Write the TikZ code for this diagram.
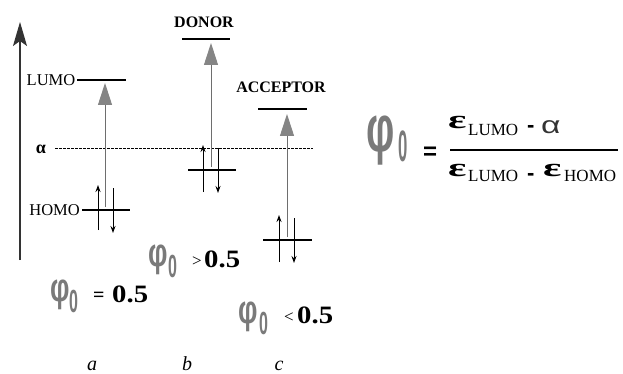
\documentclass[tikz,border=0pt]{standalone}
\usepackage{fontspec}
\setmainfont{Liberation Serif}
\newfontfamily\phifont{Liberation Sans}
\usetikzlibrary{arrows.meta}
\definecolor{ggray}{HTML}{7A7A7A}
\definecolor{sgray}{HTML}{858585}
\definecolor{shaft}{HTML}{6E6E6E}
\begin{document}
\begin{tikzpicture}[x=1pt,y=-1pt,
  level/.style={line width=1.8pt},
  excite/.style={draw=shaft,line width=1pt,-{Triangle[length=22pt,width=14pt,color=sgray]}},
  spin/.style={line width=1pt,-{Stealth[length=7pt,width=5pt]}},
  axisline/.style={draw=black!80,line width=1.2pt,-{Stealth[length=24pt,width=14pt,inset=5pt]}},
  lbl/.style={font=\fontsize{16.5}{16.5}\selectfont,inner sep=0pt},
  tag/.style={font=\bfseries\fontsize{16}{16}\selectfont,inner sep=0pt},
  bw/.style={inner sep=0pt,anchor=base west},
  phis/.style={bw,text=ggray,font=\phifont\bfseries},
  num/.style={bw,font=\bfseries\fontsize{25}{25}\selectfont},
  rel/.style={bw,font=\fontsize{17}{17}\selectfont},
  col/.style={font=\itshape\fontsize{20}{20}\selectfont,inner sep=0pt,anchor=base},
  eps/.style={bw,font=\bfseries\fontsize{26}{26}\selectfont},
  sub/.style={bw,font=\fontsize{17}{17}\selectfont},
  minus/.style={bw,font=\phifont\bfseries\fontsize{22}{22}\selectfont}
]
\useasboundingbox (0,0) rectangle (623,374);
% axis
\coordinate (ax0) at (20,260);
\coordinate (ax1) at (20,22);
\draw[axisline] (ax0) -- (ax1);
% alpha level
\node[inner sep=0pt,font=\bfseries\fontsize{18}{18}\selectfont] (alab) at (41,149) {α};
\coordinate (d0) at (55,148);
\coordinate (d1) at (313,148);
\draw[line width=0.7pt,dash pattern=on 2.5pt off 1.5pt] (d0) -- (d1);
% column a
\coordinate (la1) at (77,80); \coordinate (la2) at (126,80);
\draw[level] (la1) -- (la2);
\node[lbl,anchor=east] (lumoT) at (75.5,80) {LUMO};
\coordinate (ha1) at (82,210); \coordinate (ha2) at (130,210);
\draw[level] (ha1) -- (ha2);
\node[lbl,anchor=east] (homoT) at (80,210) {HOMO};
\coordinate (ea0) at (105,207); \coordinate (ea1) at (105,83);
\draw[excite] (ea0) -- (ea1);
\coordinate (ua0) at (98,230); \coordinate (ua1) at (98,185);
\coordinate (da0) at (113,188); \coordinate (da1) at (113,233);
\draw[spin] (ua0) -- (ua1);
\draw[spin] (da0) -- (da1);
% column b
\node[tag] (donor) at (204,22) {DONOR};
\coordinate (lb1) at (182,39); \coordinate (lb2) at (230,39);
\draw[level] (lb1) -- (lb2);
\coordinate (hb1) at (188,170); \coordinate (hb2) at (236,170);
\draw[level] (hb1) -- (hb2);
\coordinate (eb0) at (211,167); \coordinate (eb1) at (211,43);
\draw[excite] (eb0) -- (eb1);
\coordinate (ub0) at (203,192); \coordinate (ub1) at (203,145);
\coordinate (db0) at (218,148); \coordinate (db1) at (218,193);
\draw[spin] (ub0) -- (ub1);
\draw[spin] (db0) -- (db1);
% column c
\node[tag] (acceptor) at (281,87) {ACCEPTOR};
\coordinate (lc1) at (258,109); \coordinate (lc2) at (307,109);
\draw[level] (lc1) -- (lc2);
\coordinate (hc1) at (263,240); \coordinate (hc2) at (312,240);
\draw[level] (hc1) -- (hc2);
\coordinate (ec0) at (287,237); \coordinate (ec1) at (287,114);
\draw[excite] (ec0) -- (ec1);
\coordinate (uc0) at (279,262); \coordinate (uc1) at (279,215);
\coordinate (dc0) at (294,218); \coordinate (dc1) at (294,263);
\draw[spin] (uc0) -- (uc1);
\draw[spin] (dc0) -- (dc1);
% phi labels: a
\node[phis] (pa1) at (50,301) {\scalebox{0.68}[1]{\fontsize{40}{40}\selectfont φ}};
\node[phis] (pa2) at (69,312) {\scalebox{0.5}[1]{\fontsize{32}{32}\selectfont 0}};
\node[bw,font=\bfseries\fontsize{20}{20}\selectfont] (pa3) at (93,301) {=};
\node[num] (pa4) at (112,302) {\scalebox{1.15}[1]{0.5}};
% b
\node[phis] (pb1) at (148,266) {\scalebox{0.68}[1]{\fontsize{40}{40}\selectfont φ}};
\node[phis] (pb2) at (168,277) {\scalebox{0.5}[1]{\fontsize{32}{32}\selectfont 0}};
\node[rel] (pb3) at (192,266) {>};
\node[num] (pb4) at (204,267) {\scalebox{1.15}[1]{0.5}};
% c
\node[phis] (pc1) at (238,323) {\scalebox{0.68}[1]{\fontsize{40}{40}\selectfont φ}};
\node[phis] (pc2) at (259,334) {\scalebox{0.5}[1]{\fontsize{32}{32}\selectfont 0}};
\node[rel] (pc3) at (284,322) {<};
\node[num] (pc4) at (297,323) {\scalebox{1.15}[1]{0.5}};
% a b c
\node[col] (ca) at (92,370) {a};
\node[col] (cb) at (187,370) {b};
\node[col] (cc) at (279,370) {c};
% formula
\node[phis] (fphi) at (366,152) {\scalebox{0.6}[1]{\fontsize{66}{66}\selectfont φ}};
\node[phis] (fzero) at (398,162) {\scalebox{0.38}[1]{\fontsize{44}{44}\selectfont 0}};
\node[bw,font=\phifont\bfseries\fontsize{24}{24}\selectfont] (feq) at (423,160) {=};
\coordinate (fb0) at (450,150); \coordinate (fb1) at (618,150);
\draw[line width=1.6pt] (fb0) -- (fb1);
% numerator
\node[eps] (n1) at (448,129) {\scalebox{1.65}[1]{ε}};
\node[sub] (n2) at (468,136) {LUMO};
\node[minus] (n3) at (527,133) {-};
\node[bw,text=black!80,font=\phifont\fontsize{24}{24}\selectfont] (n4) at (541,134) {\scalebox{1.4}[1]{α}};
% denominator
\node[eps] (m1) at (448,177) {\scalebox{1.65}[1]{ε}};
\node[sub] (m2) at (468,182) {LUMO};
\node[minus] (m3) at (527,180) {-};
\node[eps] (m4) at (543,177) {\scalebox{1.65}[1]{ε}};
\node[sub] (m5) at (564,182) {HOMO};
\end{tikzpicture}
\end{document}
